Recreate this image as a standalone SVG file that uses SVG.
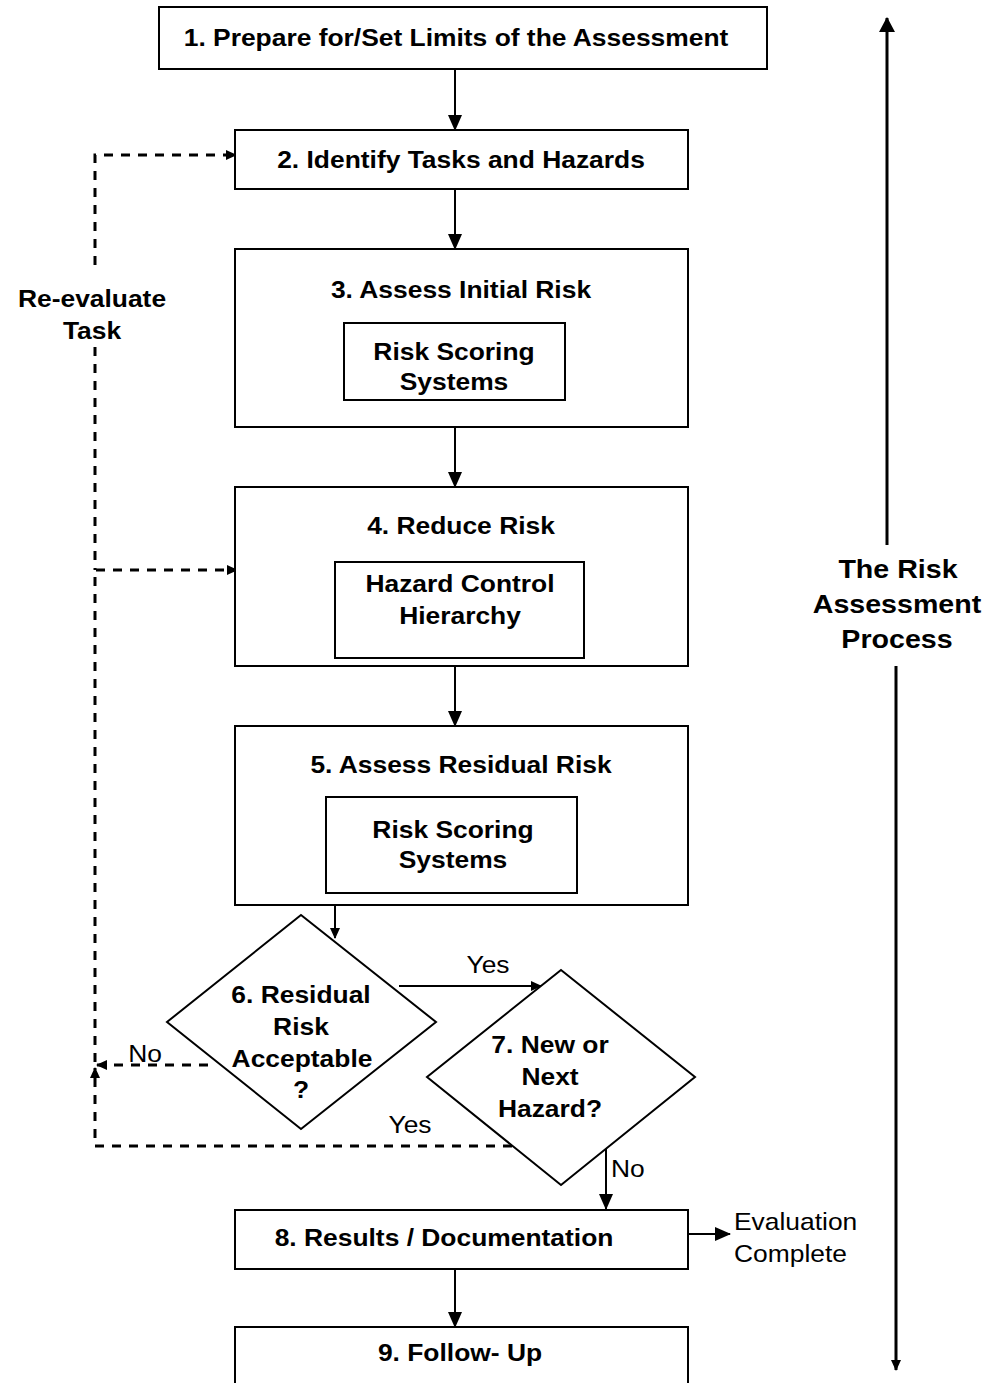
<svg xmlns="http://www.w3.org/2000/svg" width="1001" height="1383" viewBox="0 0 1001 1383">
<style>
.box{fill:#fff;stroke:#000;stroke-width:2}
.t{font-family:"Liberation Sans",Arial,sans-serif;font-size:24px;font-weight:bold;text-anchor:middle;fill:#000}
.r{font-family:"Liberation Sans",Arial,sans-serif;font-size:24px;fill:#000}
.big{font-family:"Liberation Sans",Arial,sans-serif;font-size:26px;font-weight:bold;text-anchor:middle;fill:#000}
.ln{fill:none;stroke:#000;stroke-width:2}
.dl{fill:none;stroke:#000;stroke-width:3;stroke-dasharray:9 8}
.sl{fill:none;stroke:#000;stroke-width:3}
</style>
<defs>
<marker id="ah" markerUnits="userSpaceOnUse" markerWidth="16" markerHeight="14" viewBox="0 0 16 14" refX="15" refY="7" orient="auto"><path d="M0,0 L16,7 L0,14 z" fill="#000"/></marker>
<marker id="as" markerUnits="userSpaceOnUse" markerWidth="11" markerHeight="10" viewBox="0 0 11 10" refX="10" refY="5" orient="auto"><path d="M0,0 L11,5 L0,10 z" fill="#000"/></marker>
<marker id="at" markerUnits="userSpaceOnUse" markerWidth="15" markerHeight="16" viewBox="0 0 15 16" refX="14" refY="8" orient="auto"><path d="M0,0 L15,8 L0,16 z" fill="#000"/></marker>
</defs>
<rect width="1001" height="1383" fill="#fff"/>

<g id="connectors">
<path class="ln" d="M455,69 V130" marker-end="url(#ah)"/>
<path class="ln" d="M455,189 V249" marker-end="url(#ah)"/>
<path class="ln" d="M455,427 V487" marker-end="url(#ah)"/>
<path class="ln" d="M455,666 V726" marker-end="url(#ah)"/>
<path class="ln" d="M335,905 V938" marker-end="url(#as)"/>
<path class="ln" d="M399,986 H541" marker-end="url(#as)"/>
<path class="ln" d="M606,1149 V1209" marker-end="url(#ah)"/>
<path class="ln" d="M688,1234 H730" marker-end="url(#ah)"/>
<path class="ln" d="M455,1269 V1327" marker-end="url(#ah)"/>
<path class="dl" d="M208,1065 H97" marker-end="url(#as)"/>
<path class="dl" d="M512,1146 H95 V1068" marker-end="url(#as)"/>
<path class="dl" d="M95,1062 V570 H237" marker-end="url(#as)"/>
<path class="dl" d="M95,347 V570"/>
<path class="dl" d="M95,265 V155 H236" marker-end="url(#as)"/>
<path class="sl" d="M887,545 V18" marker-end="url(#at)"/>
<path class="sl" d="M896,666 V1370" marker-end="url(#as)"/>
<text class="r" transform="translate(488 973) scale(1.1 1)" text-anchor="middle">Yes</text>
<text class="r" transform="translate(145 1062) scale(1.1 1)" text-anchor="middle">No</text>
<text class="r" transform="translate(410 1133) scale(1.1 1)" text-anchor="middle">Yes</text>
<text class="r" transform="translate(611 1177) scale(1.1 1)">No</text>
<text class="r" transform="translate(734 1230) scale(1.1 1)">Evaluation</text>
<text class="r" transform="translate(734 1262) scale(1.1 1)">Complete</text>
<text class="t" transform="translate(92 307) scale(1.1 1)">Re-evaluate</text>
<text class="t" transform="translate(92 339) scale(1.1 1)">Task</text>
<text class="big" transform="translate(898 578) scale(1.1 1)">The Risk</text>
<text class="big" transform="translate(897 613) scale(1.1 1)">Assessment</text>
<text class="big" transform="translate(897 648) scale(1.1 1)">Process</text>
</g>

<g id="n1">
<rect class="box" x="159" y="7" width="608" height="62"/>
<text class="t" transform="translate(456 46) scale(1.1 1)">1. Prepare for/Set Limits of the Assessment</text>
</g>
<g id="n2">
<rect class="box" x="235" y="130" width="453" height="59"/>
<text class="t" transform="translate(461 168) scale(1.1 1)">2. Identify Tasks and Hazards</text>
</g>
<g id="n3">
<rect class="box" x="235" y="249" width="453" height="178"/>
<text class="t" transform="translate(461 298) scale(1.1 1)">3. Assess Initial Risk</text>
<rect class="box" x="344" y="323" width="221" height="77"/>
<text class="t" transform="translate(454 360) scale(1.1 1)">Risk Scoring</text>
<text class="t" transform="translate(454 390) scale(1.1 1)">Systems</text>
</g>
<g id="n4">
<rect class="box" x="235" y="487" width="453" height="179"/>
<text class="t" transform="translate(461 534) scale(1.1 1)">4. Reduce Risk</text>
<rect class="box" x="335" y="562" width="249" height="96"/>
<text class="t" transform="translate(460 592) scale(1.1 1)">Hazard Control</text>
<text class="t" transform="translate(460 624) scale(1.1 1)">Hierarchy</text>
</g>
<g id="n5">
<rect class="box" x="235" y="726" width="453" height="179"/>
<text class="t" transform="translate(461 773) scale(1.1 1)">5. Assess Residual Risk</text>
<rect class="box" x="326" y="797" width="251" height="96"/>
<text class="t" transform="translate(453 838) scale(1.1 1)">Risk Scoring</text>
<text class="t" transform="translate(453 868) scale(1.1 1)">Systems</text>
</g>
<g id="n6">
<polygon class="box" points="301,915 436,1022 301,1129 167,1022"/>
<text class="t" transform="translate(301 1003) scale(1.1 1)">6. Residual</text>
<text class="t" transform="translate(301 1035) scale(1.1 1)">Risk</text>
<text class="t" transform="translate(302 1067) scale(1.1 1)">Acceptable</text>
<text class="t" transform="translate(301 1098) scale(1.1 1)">?</text>
</g>
<g id="n7">
<polygon class="box" points="561,970 695,1077 561,1185 427,1077"/>
<text class="t" transform="translate(550 1053) scale(1.1 1)">7. New or</text>
<text class="t" transform="translate(550 1085) scale(1.1 1)">Next</text>
<text class="t" transform="translate(550 1117) scale(1.1 1)">Hazard?</text>
</g>
<g id="n8">
<rect class="box" x="235" y="1210" width="453" height="59"/>
<text class="t" transform="translate(444 1246) scale(1.1 1)">8. Results / Documentation</text>
</g>
<g id="n9">
<rect class="box" x="235" y="1327" width="453" height="70"/>
<text class="t" transform="translate(460 1361) scale(1.1 1)">9. Follow- Up</text>
</g>
</svg>
